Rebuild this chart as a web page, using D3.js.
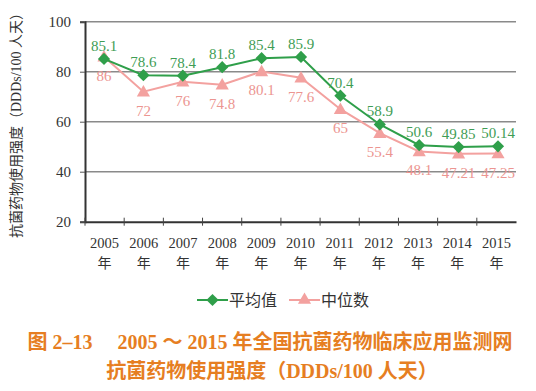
<!DOCTYPE html>
<html>
<head>
<meta charset="utf-8">
<script src="https://cdn.jsdelivr.net/npm/d3@7/dist/d3.min.js"></script>
<style>
  body { margin: 0; background: #fff; }
  svg { display: block; font-family: "Liberation Serif", "Noto Sans CJK SC", serif; }
</style>
</head>
<body>
<div id="chart"></div>
<script>
var years = ["2005", "2006", "2007", "2008", "2009", "2010", "2011", "2012", "2013", "2014", "2015"];
var meanValues = [85.1, 78.6, 78.4, 81.8, 85.4, 85.9, 70.4, 58.9, 50.6, 49.85, 50.14];
var medianValues = [86, 72, 76, 74.8, 80.1, 77.6, 65, 55.4, 48.1, 47.21, 47.25];
var yTicks = [20, 40, 60, 80, 100];

var green = "#2f9f4a", greenText = "#3f9d55";
var pink = "#f3a19f", pinkText = "#ec9591";
var orange = "#e67e22";

var width = 536, height = 391;

var svg = d3.select("#chart").append("svg")
    .attr("width", width)
    .attr("height", height);

// axis band for ticks/labels, point scale for markers
var xBand = d3.scaleBand()
    .domain(years)
    .range([85, 516]);

var xPoint = d3.scalePoint()
    .domain(years)
    .range([104, 498]);

var y = d3.scaleLinear()
    .domain([20, 100])
    .range([221.7, 21.7]);

// gridlines
svg.append("g")
  .selectAll("line")
  .data(yTicks.slice(1))
  .enter().append("line")
  .attr("x1", 85)
  .attr("x2", 516)
  .attr("y1", function(d) { return y(d); })
  .attr("y2", function(d) { return y(d); })
  .attr("stroke", "#8a8a8a")
  .attr("stroke-width", 1.5);

// y axis
var yAxis = d3.axisLeft(y)
    .tickValues(yTicks)
    .tickSize(5)
    .tickPadding(9);

var gy = svg.append("g")
    .attr("transform", "translate(85,0)")
    .call(yAxis);
gy.select(".domain").attr("stroke", "#333").attr("stroke-width", 2);
gy.selectAll(".tick line").attr("stroke", "#555");
gy.selectAll(".tick text")
  .attr("fill", "#333")
  .style("font-size", "15px")
  .style("font-family", "Liberation Serif");

// x axis
var gx = svg.append("g")
    .attr("transform", "translate(0," + y(20) + ")")
    .call(d3.axisBottom(xBand).tickSize(0).tickFormat(""));
gx.select(".domain").attr("stroke", "#333").attr("stroke-width", 2);

// tick marks at band boundaries
gx.selectAll(".bnd")
  .data(years)
  .enter().append("line")
  .attr("x1", function(d) { return xBand(d); })
  .attr("x2", function(d) { return xBand(d); })
  .attr("y1", -4)
  .attr("y2", 4)
  .attr("stroke", "#444")
  .attr("stroke-width", 1);

var yearLabel = svg.append("g").selectAll("text")
    .data(years)
    .enter().append("text")
    .attr("text-anchor", "middle")
    .attr("fill", "#333")
    .style("font-size", "14.5px");
yearLabel.append("tspan")
  .attr("x", function(d) { return xBand(d) + xBand.bandwidth() / 2; })
  .attr("y", 248)
  .text(function(d) { return d; });
yearLabel.append("tspan")
  .attr("x", function(d) { return xBand(d) + xBand.bandwidth() / 2; })
  .attr("y", 268)
  .style("font-size", "14px")
  .text("年");

// y title
svg.append("text")
  .attr("transform", "translate(21,122) rotate(-90)")
  .attr("text-anchor", "middle")
  .attr("fill", "#333")
  .style("font-size", "14px")
  .text("抗菌药物使用强度（DDDs/100 人天）");

var line = d3.line()
    .x(function(d, i) { return xPoint(years[i]); })
    .y(function(d) { return y(d); });

var diamond = d3.symbol().type(d3.symbolDiamond2).size(95);
var triangle = d3.symbol().type(d3.symbolTriangle).size(75);

// median series
svg.append("path")
  .datum(medianValues)
  .attr("d", line)
  .attr("fill", "none")
  .attr("stroke", pink)
  .attr("stroke-width", 2);

svg.append("g").selectAll("path")
  .data(medianValues)
  .enter().append("path")
  .attr("d", triangle)
  .attr("transform", function(d, i) { return "translate(" + xPoint(years[i]) + "," + (y(d) + 1) + ")"; })
  .attr("fill", pink);

// mean series
svg.append("path")
  .datum(meanValues)
  .attr("d", line)
  .attr("fill", "none")
  .attr("stroke", green)
  .attr("stroke-width", 2);

svg.append("g").selectAll("path")
  .data(meanValues)
  .enter().append("path")
  .attr("d", diamond)
  .attr("transform", function(d, i) { return "translate(" + xPoint(years[i]) + "," + y(d) + ")"; })
  .attr("fill", green);

// labels
svg.append("g").selectAll("text")
  .data(meanValues)
  .enter().append("text")
  .attr("x", function(d, i) { return xPoint(years[i]); })
  .attr("y", function(d) { return y(d) - 8; })
  .attr("text-anchor", "middle")
  .attr("fill", greenText)
  .style("font-size", "15px")
  .text(function(d) { return d; });

svg.append("g").selectAll("text")
  .data(medianValues)
  .enter().append("text")
  .attr("x", function(d, i) { return xPoint(years[i]); })
  .attr("y", function(d) { return y(d) + 24; })
  .attr("text-anchor", "middle")
  .attr("fill", pinkText)
  .style("font-size", "15px")
  .text(function(d) { return d; });

// legend
var legend = svg.append("g").attr("transform", "translate(0,300)");
var legendItems = [
  {name: "平均值", color: green, sym: diamond, x: 197},
  {name: "中位数", color: pink, sym: triangle, x: 289}
];
var li = legend.selectAll("g")
    .data(legendItems)
    .enter().append("g")
    .attr("transform", function(d) { return "translate(" + d.x + ",0)"; });
li.append("line")
  .attr("x1", 0).attr("x2", 31)
  .attr("stroke", function(d) { return d.color; })
  .attr("stroke-width", 2);
li.append("path")
  .attr("d", function(d) { return d.sym(); })
  .attr("transform", "translate(15.5,0)")
  .attr("fill", function(d) { return d.color; });
li.append("text")
  .attr("x", 32)
  .attr("y", 6)
  .attr("fill", "#333")
  .style("font-size", "16px")
  .style("font-family", "Noto Sans CJK SC")
  .text(function(d) { return d.name; });

// caption
var cap = svg.append("g")
    .attr("fill", orange)
    .style("font-weight", "bold")
    .style("font-size", "20px");
cap.append("text")
  .attr("x", 270)
  .attr("y", 349)
  .attr("text-anchor", "middle")
  .text("图 2–13　 2005 ～ 2015 年全国抗菌药物临床应用监测网");
cap.append("text")
  .attr("x", 272)
  .attr("y", 378)
  .attr("text-anchor", "middle")
  .text("抗菌药物使用强度（DDDs/100 人天）");
</script>
</body>
</html>
